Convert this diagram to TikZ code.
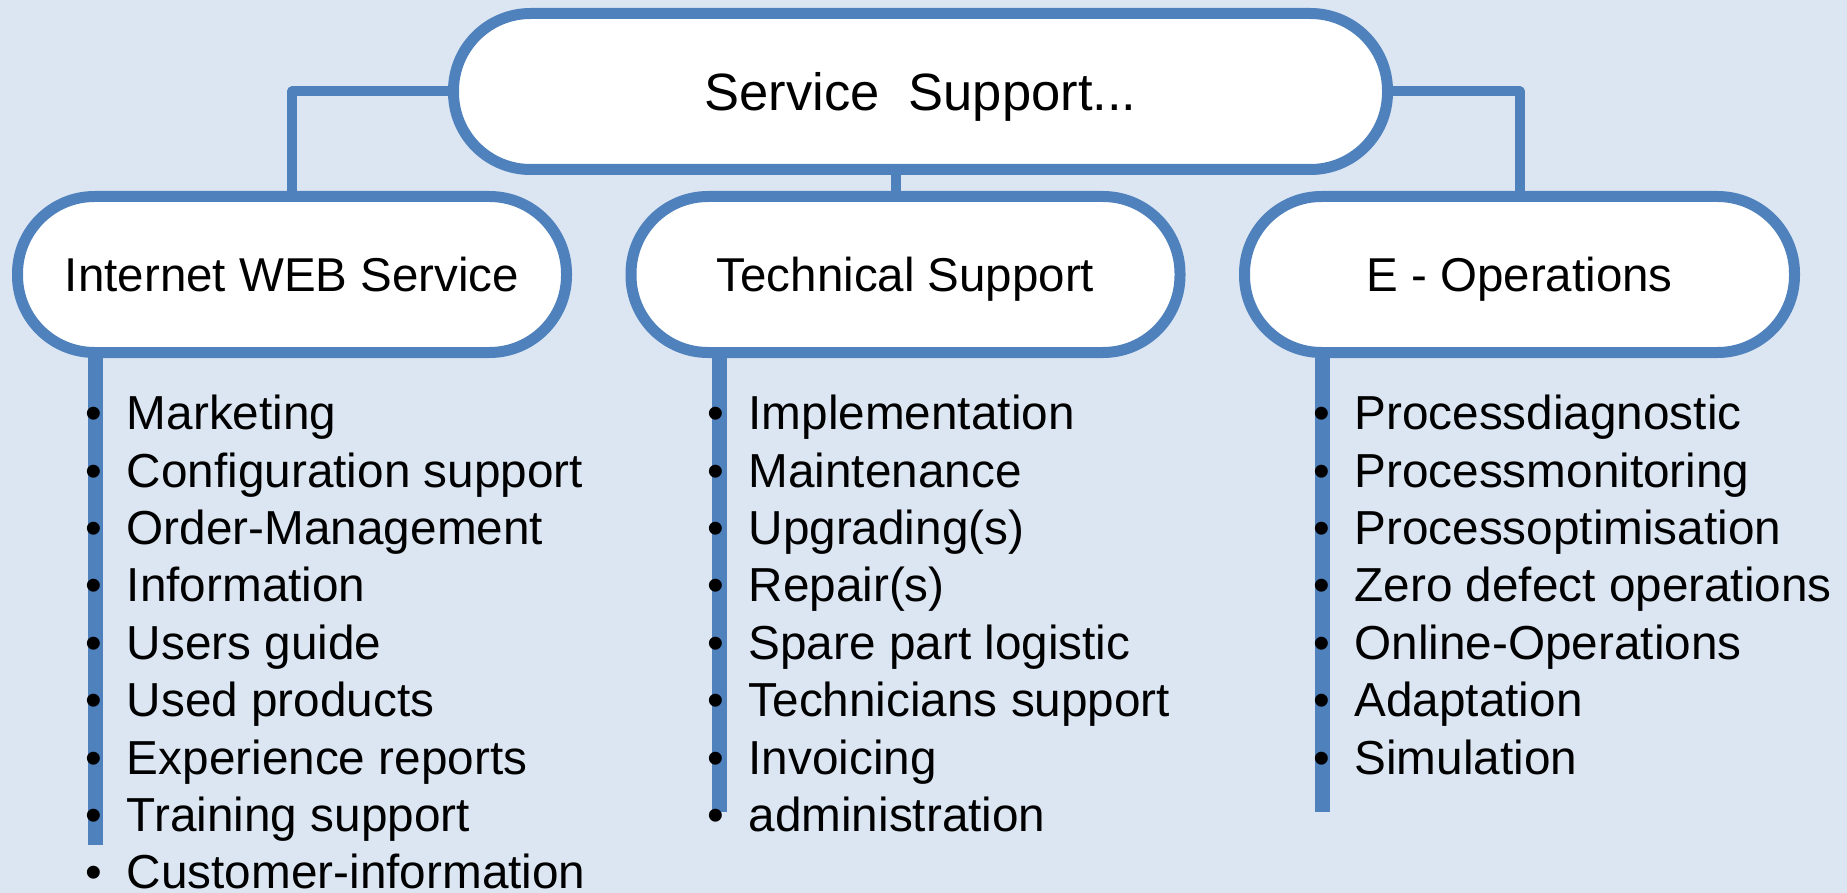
\documentclass[tikz,border=0pt]{standalone}
\usepackage{fontspec}
\setmainfont{Liberation Sans}
\usetikzlibrary{positioning, calc}
\definecolor{bgblue}{HTML}{DCE6F2}
\definecolor{lineblue}{HTML}{4F81BD}
\newcommand{\itemdot}{\makebox[41pt][l]{•}}
\tikzset{%
    capsule/.style={draw=lineblue, line width=11pt, fill=white, rounded corners=77pt,
        minimum height=156pt, minimum width=549pt, inner sep=0pt,
        text height=34pt, text depth=0pt, font=\fontsize{47.5}{57}\selectfont},
    link/.style={draw=lineblue, line width=10pt, line join=round},
    spine/.style={draw=lineblue, line width=15pt},
    listitem/.style={anchor=base west, inner sep=0pt, font=\fontsize{47.7}{57}\selectfont},
}

\begin{document}
\begin{tikzpicture}[x=1pt,y=-1pt]
	\fill[bgblue] (0,0) rectangle (1847,893);
	\useasboundingbox (0,0) rectangle (1847,893);

	\node[capsule, minimum width=934pt, text height=37.5pt, font=\fontsize{52.5}{63}\selectfont] (top) at (920.5,91.5) {Service\ \ Support...};
	\node[capsule] (web) at (292,274.5) {Internet WEB Service};
	\node[capsule] (tech) at (905.5,274.5) {Technical Support};
	\node[capsule, minimum width=550pt] (eop) at (1519.5,274.5) {E - Operations};

	\coordinate (midlink) at (896,0);
	\draw[link] (top.west) -| (web.north);
	\draw[link] (midlink |- top.south) -- (midlink |- tech.north);
	\draw[link] (top.east) -| (eop.north);

	\coordinate (webend) at (95.5,845);
	\coordinate (techend) at (719.5,812);
	\coordinate (eopend) at (1322.5,812);
	\draw[spine] (webend |- web.south) -- (webend);
	\draw[spine] (techend |- tech.south) -- (techend);
	\draw[spine] (eopend |- eop.south) -- (eopend);

	% Internet WEB Service
	\node[listitem] (w1) at (85.7,429.6) {\itemdot Marketing};
	\node[listitem] (w2) at (85.7,487.0) {\itemdot Configuration support};
	\node[listitem] (w3) at (85.7,544.4) {\itemdot Order-Management};
	\node[listitem] (w4) at (85.7,601.8) {\itemdot Information};
	\node[listitem] (w5) at (85.7,659.2) {\itemdot Users guide};
	\node[listitem] (w6) at (85.7,716.6) {\itemdot Used products};
	\node[listitem] (w7) at (85.7,774.0) {\itemdot Experience reports};
	\node[listitem] (w8) at (85.7,831.4) {\itemdot Training support};
	\node[listitem] (w9) at (85.7,888.8) {\itemdot Customer-information};

	% Technical Support
	\node[listitem] (t1) at (707.4,429.6) {\itemdot Implementation};
	\node[listitem] (t2) at (707.4,487.0) {\itemdot Maintenance};
	\node[listitem] (t3) at (707.4,544.4) {\itemdot Upgrading(s)};
	\node[listitem] (t4) at (707.4,601.8) {\itemdot Repair(s)};
	\node[listitem] (t5) at (707.4,659.2) {\itemdot Spare part logistic};
	\node[listitem] (t6) at (707.4,716.6) {\itemdot Technicians support};
	\node[listitem] (t7) at (707.4,774.0) {\itemdot Invoicing};
	\node[listitem] (t8) at (707.4,831.4) {\itemdot administration};

	% E - Operations
	\node[listitem] (e1) at (1313.3,429.6) {\itemdot Processdiagnostic};
	\node[listitem] (e2) at (1313.3,487.0) {\itemdot Processmonitoring};
	\node[listitem] (e3) at (1313.3,544.4) {\itemdot Processoptimisation};
	\node[listitem] (e4) at (1313.3,601.8) {\itemdot Zero defect operations};
	\node[listitem] (e5) at (1313.3,659.2) {\itemdot Online-Operations};
	\node[listitem] (e6) at (1313.3,716.6) {\itemdot Adaptation};
	\node[listitem] (e7) at (1313.3,774.0) {\itemdot Simulation};
\end{tikzpicture}
\end{document}
